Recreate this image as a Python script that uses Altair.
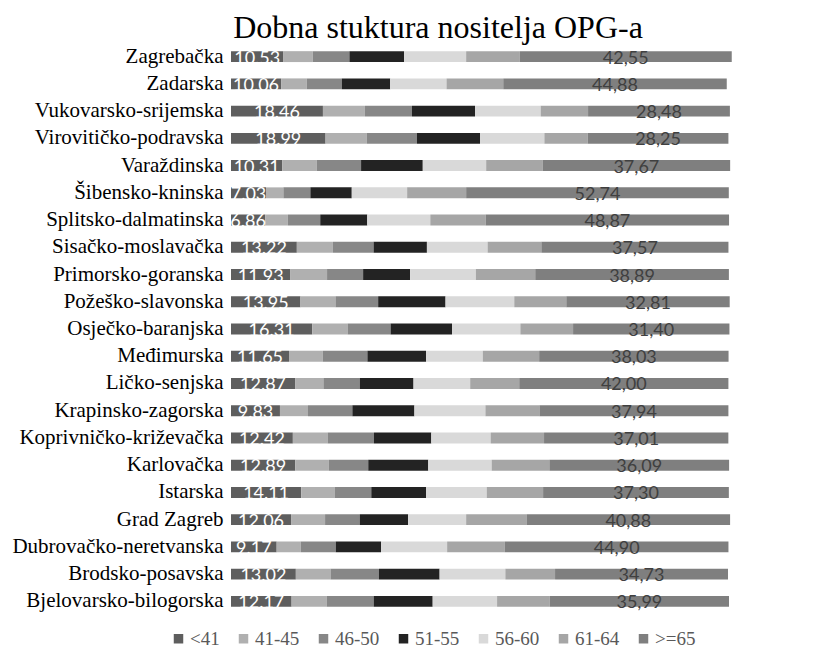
import altair as alt
import pandas as pd

provinces = ["Zagrebačka", "Zadarska", "Vukovarsko-srijemska", "Virovitičko-podravska",
             "Varaždinska", "Šibensko-kninska", "Splitsko-dalmatinska", "Sisačko-moslavačka",
             "Primorsko-goranska", "Požeško-slavonska", "Osječko-baranjska", "Međimurska",
             "Ličko-senjska", "Krapinsko-zagorska", "Koprivničko-križevačka", "Karlovačka",
             "Istarska", "Grad Zagreb", "Dubrovačko-neretvanska", "Brodsko-posavska",
             "Bjelovarsko-bilogorska"]

groups = ["<41", "41-45", "46-50", "51-55", "56-60", "61-64", ">=65"]
colors = ["#5e5e5e", "#b0b0b0", "#878787", "#232323", "#d9d9d9", "#a6a6a6", "#7f7f7f"]

lt41 = [10.53, 10.06, 18.46, 18.99, 10.31, 7.03, 6.86, 13.22, 11.93, 13.95, 16.31, 11.65,
        12.87, 9.83, 12.42, 12.89, 14.11, 12.06, 9.17, 13.02, 12.17]
g41_45 = [5.88, 5.16, 8.43, 8.30, 6.90, 3.49, 4.56, 7.24, 7.36, 7.03, 7.10, 6.76,
          5.69, 5.63, 6.97, 6.76, 6.69, 6.83, 4.83, 6.97, 7.03]
g46_50 = [7.37, 7.03, 9.45, 10.05, 8.91, 5.42, 6.50, 8.17, 7.24, 8.57, 8.64, 8.98,
          7.30, 8.91, 9.31, 7.91, 7.37, 6.96, 7.03, 9.71, 9.45]
g51_55 = [10.98, 9.71, 12.66, 12.66, 12.39, 8.31, 9.44, 10.71, 9.44, 13.53, 12.33, 11.79,
          10.79, 12.46, 11.52, 12.05, 10.99, 9.72, 9.11, 12.19, 11.85]
g56_60 = [12.46, 11.32, 13.19, 12.93, 12.73, 11.12, 12.66, 12.19, 13.20, 13.80, 13.73, 11.38,
          11.38, 14.26, 11.92, 12.73, 12.19, 11.65, 13.26, 13.20, 12.93]
g61_64 = [10.78, 11.39, 9.51, 8.70, 11.32, 11.85, 11.12, 10.79, 11.92, 10.45, 10.58, 11.32,
          9.85, 10.85, 10.72, 11.59, 11.32, 12.12, 11.59, 9.98, 10.58]
ge65 = [42.55, 44.88, 28.48, 28.25, 37.67, 52.74, 48.87, 37.57, 38.89, 32.81, 31.40, 38.03,
        42.00, 37.94, 37.01, 36.09, 37.30, 40.88, 44.90, 34.73, 35.99]

series = [lt41, g41_45, g46_50, g51_55, g56_60, g61_64, ge65]

rows = []
for gi, (g, vals) in enumerate(zip(groups, series)):
    for p, v in zip(provinces, vals):
        rows.append({"prov": p, "grp": g, "gi": gi, "val": v})
df = pd.DataFrame(rows)

SERIF = "Liberation Serif"

base = alt.Chart(df)

yenc = alt.Y("prov:N", sort=provinces,
             scale=alt.Scale(paddingInner=0.6, paddingOuter=0.3),
             axis=alt.Axis(title=None, ticks=False, domain=False, labelFont=SERIF,
                           labelFontSize=21, labelColor="#000000", labelPadding=8,
                           labelLimit=300))

bars = base.mark_bar().encode(
    y=yenc,
    x=alt.X("val:Q", stack="zero",
            scale=alt.Scale(domain=[0, 100], nice=False),
            axis=alt.Axis(values=[0, 20, 40, 60, 80, 100], labels=False, ticks=False,
                          domain=False, grid=True, gridColor="#d9d9d9", title=None)),
    color=alt.Color("grp:N", scale=alt.Scale(domain=groups, range=colors),
                    legend=alt.Legend(title=None, orient="none", legendX=-62, legendY=586,
                                      direction="horizontal", columns=7, symbolType="square",
                                      symbolSize=90, symbolStrokeWidth=0,
                                      labelFont=SERIF, labelFontSize=19,
                                      labelColor="#595959", columnPadding=14, labelOffset=2,
                                      padding=0)),
    order=alt.Order("gi:Q", sort="ascending"),
)

stacked = base.transform_stack(
    stack="val", groupby=["prov"], as_=["v0", "v1"],
    sort=[alt.SortField("gi", order="ascending")]
).transform_calculate(
    mid="(datum.v0 + datum.v1) / 2",
    lab="datum.gi == 6 ? replace(format(datum.val, '.2f'), '.', ',') : format(datum.val, '.2f')"
)

ylab = alt.Y("prov:N", sort=provinces)

first_lbl = stacked.transform_filter("datum.gi == 0").mark_text(
    font="Lato", fontSize=18, color="#ffffff", baseline="middle", dy=2
).encode(x=alt.X("mid:Q", axis=None), y=ylab, text="lab:N")

last_lbl = stacked.transform_filter("datum.gi == 6").mark_text(
    font="Lato", fontSize=18, color="#404040", baseline="middle", dy=2
).encode(x=alt.X("mid:Q", axis=None), y=ylab, text="lab:N")

chart = alt.layer(bars, first_lbl, last_lbl).properties(
    width=498, height=572,
    autosize="none",
    padding={"left": 223, "top": 35, "right": 60, "bottom": 33},
    title=alt.TitleParams("Dobna stuktura nositelja OPG-a", font=SERIF,
                          fontSize=32, fontWeight="normal", color="#000000",
                          anchor="middle", dx=-42, offset=-27, baseline="alphabetic"),
).configure_view(stroke=None).configure_title(
    font=SERIF, fontWeight="normal"
).configure_legend(labelFont=SERIF)

chart.save("out.html", embed_options={"renderer": "svg", "actions": False})
